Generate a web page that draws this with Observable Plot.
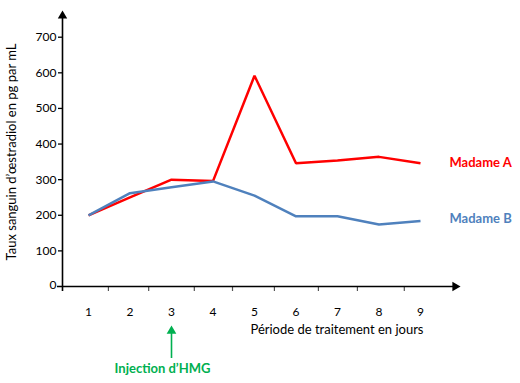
<!DOCTYPE html>
<html>
<head>
<meta charset="utf-8">
<script src="https://cdn.jsdelivr.net/npm/d3@7"></script>
<script src="https://cdn.jsdelivr.net/npm/@observablehq/plot@0.6"></script>
<style>
  html, body { margin: 0; padding: 0; background: #fff; }
  #chart svg { display: block; }
</style>
</head>
<body>
<div id="chart"></div>
<script>
const days = [1, 2, 3, 4, 5, 6, 7, 8, 9];
const madameA = [200, 250, 300, 296, 592, 346, 354, 364, 346];
const madameB = [200, 262, 279, 295, 255, 197, 197, 174, 184];
const seriesNames = ["Madame A", "Madame B"];
const seriesColors = ["#ff0000", "#4f81bd"];
const yTicks = [0, 100, 200, 300, 400, 500, 600, 700];
const xTickMarks = [1.48, 2.45, 3.55, 4.47, 5.48, 6.54, 7.48, 8.61];
const injectionDay = 3;
const xTitle = "Période de traitement en jours";
const yTitle = "Taux sanguin d’œstradiol en pg par mL";
const injectionLabel = "Injection d’HMG";

const rows = [];
days.forEach((d, i) => {
  rows.push({day: d, value: madameA[i], series: seriesNames[0]});
  rows.push({day: d, value: madameB[i], series: seriesNames[1]});
});
const last = days.length - 1;
const lastA = [{series: seriesNames[0], day: days[last], value: madameA[last]}];
const lastB = [{series: seriesNames[1], day: days[last], value: madameB[last]}];

const xDomain = [0.3735, 9.964];
const yDomain = [0, 775];
const font = "Lato, 'Open Sans', sans-serif";

const chart = Plot.plot({
  width: 520,
  height: 383,
  marginLeft: 62,
  marginRight: 60,
  marginTop: 10,
  marginBottom: 97,
  style: {fontFamily: font, fontSize: "12px", color: "#000", background: "#fff"},
  x: {domain: xDomain},
  y: {domain: yDomain},
  color: {domain: seriesNames, range: seriesColors},
  marks: [
    Plot.axisY({ticks: yTicks.filter(v => v > 0), tickSize: 4, tickPadding: 2, tickFormat: d => String(d), label: null, strokeWidth: 1.3, fontSize: 12}),
    Plot.axisY({ticks: [0], tickSize: 0, tickPadding: 6, tickFormat: d => String(d), label: null, fontSize: 12, dy: -1}),
    Plot.axisX({ticks: xTickMarks, tickSize: 5, tickFormat: () => "", label: null, stroke: "#555", strokeWidth: 1.2}),
    Plot.axisX({ticks: days, tickSize: 0, tickPadding: 21, tickFormat: d => String(d), label: null, fontSize: 12}),
    Plot.ruleX([xDomain[0]], {y1: 0, y2: yDomain[1], stroke: "#000", strokeWidth: 1.6, dy: 5}),
    Plot.ruleY([0], {x1: xDomain[0], x2: xDomain[1], stroke: "#000", strokeWidth: 1.6, dx: -5}),
    Plot.dot([xDomain[0]], {x: d => d, y: yDomain[1], symbol: "triangle", r: 3.5, fill: "#000", stroke: null, dy: 5.4}),
    Plot.dot([xDomain[1]], {x: d => d, y: 0, symbol: "triangle", r: 3.5, fill: "#000", stroke: null, rotate: 90, dx: -5.4}),
    Plot.line(rows, {x: "day", y: "value", z: "series", stroke: "series", strokeWidth: 2.5, strokeLinejoin: "miter", strokeLinecap: "butt"}),
    Plot.text(lastA, {x: "day", y: "value", text: "series", fill: "series", textAnchor: "start", dx: 29, dy: 0, fontWeight: "bold", fontSize: 13}),
    Plot.text(lastB, {x: "day", y: "value", text: "series", fill: "series", textAnchor: "start", dx: 29, dy: -2, fontWeight: "bold", fontSize: 13}),
    Plot.text([xTitle], {frameAnchor: "bottom-right", text: d => d, textAnchor: "end", dx: -37, dy: 47, fontSize: 13}),
    Plot.text([yTitle], {frameAnchor: "left", text: d => d, textAnchor: "middle", rotate: -90, dx: -51, dy: 3.5, fontSize: 13}),
    Plot.ruleX([injectionDay], {stroke: "#00b050", strokeWidth: 1.6, dy: 72, insetTop: 246}),
    Plot.dot([injectionDay], {x: d => d, frameAnchor: "bottom", symbol: "triangle", r: 3.6, fill: "#00b050", stroke: null, dy: 44.5}),
    Plot.text([injectionLabel], {x: () => injectionDay, frameAnchor: "bottom", text: d => d, fill: "#00b050", fontWeight: "bold", fontSize: 13, dx: -9, dy: 86})
  ]
});
document.getElementById("chart").appendChild(chart);
</script>
</body>
</html>
